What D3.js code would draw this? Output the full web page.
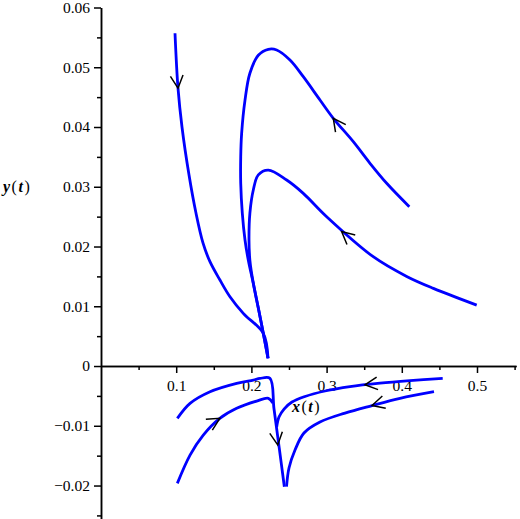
<!DOCTYPE html>
<html>
<head>
<meta charset="utf-8">
<script src="https://cdn.jsdelivr.net/npm/d3@7"></script>
<style>
body { margin: 0; background: #fff; }
</style>
</head>
<body>
<div id="root"></div>
<script>
const width = 520;
const height = 519;

// tick values
const xMajor = [0.1, 0.2, 0.3, 0.4, 0.5];
const xMinor = [0.05, 0.15, 0.25, 0.35, 0.45, 0.55];
const yMajor = [-0.02, -0.01, 0, 0.01, 0.02, 0.03, 0.04, 0.05, 0.06];
const yMinor = [-0.025, -0.015, -0.005, 0.005, 0.015, 0.025, 0.035, 0.045, 0.055];

// trajectories [x(t), y(t)], in order of time
const trajA = [[0.0984, 0.0557], [0.1024, 0.0465], [0.1077, 0.0400], [0.1170, 0.0320], [0.1263, 0.0256],
    [0.1356, 0.0206], [0.1449, 0.01746], [0.1582, 0.01439], [0.1715, 0.0116], [0.1892, 0.00882],
    [0.2158, 0.00547], [0.2221, 0.0013]];
const trajB = [[0.4100, 0.02666], [0.3799, 0.03058], [0.3577, 0.03393], [0.3355, 0.03754],
    [0.3089, 0.04146], [0.2912, 0.04452], [0.2690, 0.04842], [0.2513, 0.05121], [0.2336, 0.05289],
    [0.2225, 0.0530], [0.2092, 0.0520], [0.198, 0.0490], [0.1915, 0.0445], [0.187, 0.0389],
    [0.1858, 0.0350], [0.1858, 0.0306], [0.1879, 0.0256], [0.1915, 0.0211], [0.1959, 0.0177],
    [0.2026, 0.0138], [0.2092, 0.0097], [0.2158, 0.0055], [0.2221, 0.0013]];
const trajC = [[0.4996, 0.0102], [0.442, 0.0130], [0.4065, 0.0150], [0.362, 0.0183], [0.3001, 0.02499],
    [0.2690, 0.0289], [0.2469, 0.03113], [0.2225, 0.0328], [0.2092, 0.0320],
    [0.2026, 0.0295], [0.198, 0.0256], [0.1968, 0.0211], [0.198, 0.0177], [0.2026, 0.0138],
    [0.2092, 0.0097], [0.2158, 0.0055], [0.2221, 0.0013]];
const trajD = [[0.1015, -0.00876], [0.1184, -0.00625], [0.145, -0.0043], [0.1804, -0.0029],
    [0.2026, -0.00234], [0.2114, -0.00208], [0.2247, -0.00206], [0.2300, -0.0071],
    [0.2370, -0.0137], [0.2438, -0.0202]];
const trajE = [[0.1015, -0.01964], [0.1184, -0.0149], [0.136, -0.01155], [0.158, -0.00876],
    [0.1804, -0.00708], [0.207, -0.00586], [0.2225, -0.0054], [0.2285, -0.0062]];
const trajF = [[0.4544, -0.00206], [0.4109, -0.00243], [0.3710, -0.00285], [0.3311, -0.00343],
    [0.2979, -0.00418], [0.2713, -0.00510], [0.2540, -0.00603], [0.2434, -0.00720],
    [0.2367, -0.00854], [0.2336, -0.01021]];
const trajG = [[0.4428, -0.0043], [0.3976, -0.0054], [0.3604, -0.00661], [0.3245, -0.00787],
    [0.2912, -0.00937], [0.2699, -0.01121], [0.2580, -0.01406], [0.2500, -0.01707], [0.2467, -0.0202]];

const trajectories = [trajA, trajB, trajC, trajD, trajE, trajF, trajG];

// direction arrows: which trajectory, and where on it
const arrowTraj = [trajA, trajB, trajC, trajE, trajD, trajF, trajG];
const arrowAt = [[0.1024, 0.0465], [0.3089, 0.04146], [0.320, 0.0225], [0.158, -0.00876],
    [0.235, -0.0132], [0.351, -0.00314], [0.3604, -0.00661]];

const x = d3.scaleLinear().domain([0, 0.552]).range([101, 516.1]);
const y = d3.scaleLinear().domain([-0.0255, 0.06]).range([518.4, 7.5]);

const svg = d3.select('#root')
    .append('svg')
    .attr('width', width)
    .attr('height', height)
    .attr('viewBox', [0, 0, width, height]);

const font = '"Liberation Serif", "Times New Roman", serif';

// axes
const axisGroups = [];
axisGroups.push(svg.append('g')
    .attr('transform', `translate(0,${y(0)})`)
    .call(d3.axisBottom(x).tickValues(xMajor).tickSize(7).tickSizeOuter(0).tickPadding(7)
        .tickFormat(d3.format('.1f'))));
axisGroups.push(svg.append('g')
    .attr('transform', `translate(0,${y(0)})`)
    .call(d3.axisBottom(x).tickValues(xMinor).tickSize(4).tickSizeOuter(0).tickFormat('')));
axisGroups.push(svg.append('g')
    .attr('transform', `translate(${x(0)},0)`)
    .call(d3.axisLeft(y).tickValues(yMajor).tickSize(7).tickSizeOuter(0).tickPadding(4)
        .tickFormat(d => (d === 0 ? '0' : d3.format('.2f')(d)))));
axisGroups.push(svg.append('g')
    .attr('transform', `translate(${x(0)},0)`)
    .call(d3.axisLeft(y).tickValues(yMinor).tickSize(4).tickSizeOuter(0).tickFormat('')));

axisGroups.forEach(g => {
    g.attr('font-family', font).attr('font-size', 15.5);
    g.selectAll('path, line').attr('stroke', '#000').attr('stroke-width', 1.5);
    g.selectAll('text').attr('fill', '#000');
});

// trajectories
const line = d3.line()
    .x(d => x(d[0]))
    .y(d => y(d[1]))
    .curve(d3.curveCatmullRom.alpha(0.5));

svg.append('g')
    .selectAll('path')
    .data(trajectories)
    .join('path')
    .attr('d', line)
    .attr('fill', 'none')
    .attr('stroke', '#0000ff')
    .attr('stroke-width', 2.8)
    .attr('stroke-linejoin', 'round')
    .attr('stroke-linecap', 'butt');

// arrows
function arrowPath(traj, at) {
    const px = traj.map(p => [x(p[0]), y(p[1])]);
    const tx = x(at[0]);
    const ty = y(at[1]);
    let best = 0;
    let bestD = Infinity;
    for (let k = 0; k < px.length - 1; k += 1) {
        const mx = (px[k][0] + px[k + 1][0]) / 2;
        const my = (px[k][1] + px[k + 1][1]) / 2;
        const dd = (mx - tx) ** 2 + (my - ty) ** 2;
        if (dd < bestD) { bestD = dd; best = k; }
    }
    const ang = Math.atan2(px[best + 1][1] - px[best][1], px[best + 1][0] - px[best][0]);
    const back = ang + Math.PI;
    const len = 14;
    const spread = 0.47;
    const w1 = [tx + len * Math.cos(back - spread), ty + len * Math.sin(back - spread)];
    const w2 = [tx + len * Math.cos(back + spread), ty + len * Math.sin(back + spread)];
    return `M${w1[0]},${w1[1]}L${tx},${ty}L${w2[0]},${w2[1]}`;
}

svg.append('g')
    .selectAll('path')
    .data(arrowAt)
    .join('path')
    .attr('d', (d, k) => arrowPath(arrowTraj[k], d))
    .attr('fill', 'none')
    .attr('stroke', '#000')
    .attr('stroke-width', 1.5);

// axis labels
function axisLabel(name, lx, ly) {
    const t = svg.append('text')
        .attr('x', lx)
        .attr('y', ly)
        .attr('font-family', font)
        .attr('font-size', 16)
        .attr('letter-spacing', 1.5);
    t.append('tspan').attr('font-weight', 'bold').attr('font-style', 'italic').text(name);
    t.append('tspan').text('(');
    t.append('tspan').attr('font-weight', 'bold').attr('font-style', 'italic').text('t');
    t.append('tspan').text(')');
}
axisLabel('y', 3, 192);
axisLabel('x', 292, 412);
</script>
</body>
</html>
